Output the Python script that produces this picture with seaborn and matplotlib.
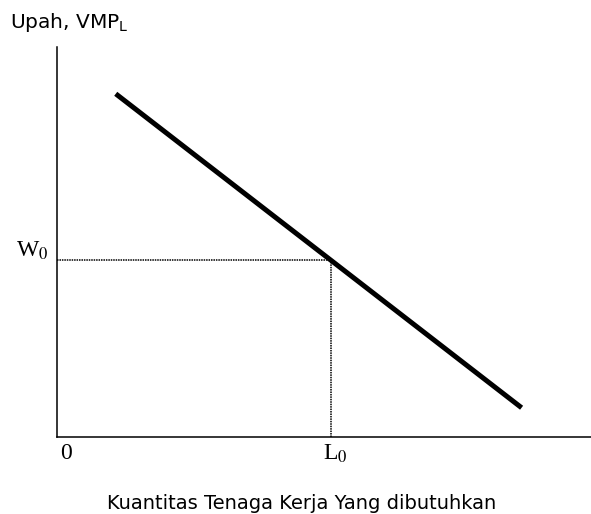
import matplotlib
matplotlib.use("Agg")
import matplotlib.pyplot as plt
import seaborn as sns
import pandas as pd

# Data (arbitrary units)
demand_x = [1.1, 8.7]
demand_y = [8.8, 0.75]
L0 = 5.13
W0 = 4.53
x_tick_labels = ["0", "L$_0$"]
y_tick_labels = ["W$_0$"]
x_label = "Kuantitas Tenaga Kerja Yang dibutuhkan"
y_label = "Upah, VMP$_\\mathrm{L}$"

sns.set_style("white")
plt.rcParams["font.family"] = ["DejaVu Sans"]

fig = plt.figure(figsize=(5.91, 5.14), dpi=100)
ax = fig.add_axes([57 / 591, (514 - 437) / 514, (591 - 57) / 591, (437 - 47) / 514])

df = pd.DataFrame({"L": demand_x, "W": demand_y})
sns.lineplot(data=df, x="L", y="W", ax=ax, color="black", linewidth=3.6,
             solid_capstyle="butt")

ax.plot([0, L0], [W0, W0], color="black", linestyle=(0, (1, 0.6)), linewidth=1.1)
ax.plot([L0, L0], [0, W0], color="black", linestyle=(0, (1, 0.6)), linewidth=1.1)

ax.set_xlim(0, 10)
ax.set_ylim(0, 10)

for s in ["top", "right"]:
    ax.spines[s].set_visible(False)
for s in ["left", "bottom"]:
    ax.spines[s].set_color("black")
    ax.spines[s].set_linewidth(1.1)

ax.set_xticks([0.17, L0 + 0.08])
ax.set_xticklabels(x_tick_labels, family="Liberation Serif", fontsize=17,
                   math_fontfamily="stix", color="black")
ax.set_yticks([W0 + 0.3])
ax.set_yticklabels(y_tick_labels, family="Liberation Serif", fontsize=17,
                   math_fontfamily="stix", color="black")
ax.tick_params(axis="x", length=0, pad=4)
ax.tick_params(axis="y", length=0, pad=6)

ax.set_xlabel("")
ax.set_ylabel("")
fig.text(0.5 * (105 + 498) / 591, 1 - 509 / 514, x_label, ha="center", va="baseline",
         fontsize=14, family="DejaVu Sans", color="black")
fig.text(10 / 591, 1 - 28 / 514, y_label, ha="left", va="baseline",
         fontsize=14.5, family="DejaVu Sans", math_fontfamily="dejavusans", color="black")

fig.savefig("out.png", dpi=100)
